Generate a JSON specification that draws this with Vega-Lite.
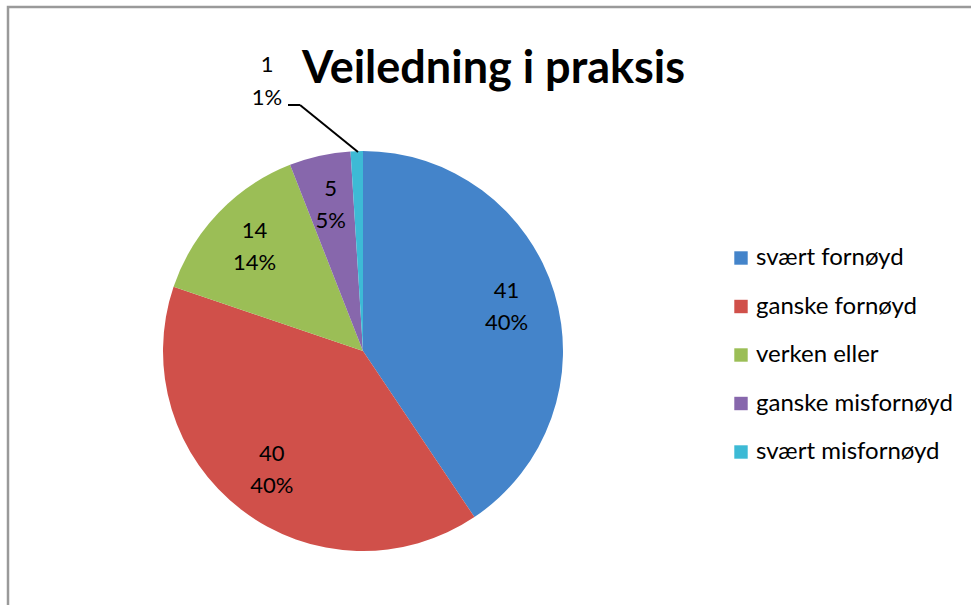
{
  "$schema": "https://vega.github.io/schema/vega-lite/v6.json",
  "autosize": {"type": "fit", "contains": "padding"},
  "width": 971,
  "height": 605,
  "padding": {"left": 8, "top": 7, "right": -4, "bottom": -4},
  "background": "white",
  "config": {
    "view": {"stroke": "#9a9a9a", "strokeWidth": 2.5},
    "font": "Lato"
  },
  "title": {
    "text": "Veiledning i praksis",
    "anchor": "middle",
    "frame": "group",
    "dx": 2,
    "offset": -85,
    "font": "Lato",
    "fontSize": 45,
    "fontWeight": "bold",
    "color": "black"
  },
  "data": {
    "values": [
      {"kategori": "svært fornøyd", "antall": 41, "andel": "40%"},
      {"kategori": "ganske fornøyd", "antall": 40, "andel": "40%"},
      {"kategori": "verken eller", "antall": 14, "andel": "14%"},
      {"kategori": "ganske misfornøyd", "antall": 5, "andel": "5%"},
      {"kategori": "svært misfornøyd", "antall": 1, "andel": "1%"}
    ]
  },
  "transform": [{"calculate": "datum.antall + '\\n' + datum.andel", "as": "etikett"}],
  "encoding": {
    "x": {"datum": 0, "type": "quantitative", "scale": {"domain": [-1.775, 3.06], "nice": false, "zero": false}, "axis": null},
    "y": {"datum": 0, "type": "quantitative", "scale": {"domain": [-1.29, 1.72], "nice": false, "zero": false}, "axis": null}
  },
  "layer": [
    {
      "mark": {"type": "arc", "outerRadius": 200},
      "encoding": {
        "theta": {"field": "antall", "type": "quantitative", "stack": true},
        "order": {"field": "antall", "type": "quantitative", "sort": "descending"},
        "color": {
          "field": "kategori",
          "type": "nominal",
          "scale": {
            "domain": ["svært fornøyd", "ganske fornøyd", "verken eller", "ganske misfornøyd", "svært misfornøyd"],
            "range": ["#4484CA", "#D0504A", "#9BBE56", "#8767AC", "#3DBAD5"]
          },
          "legend": {
            "orient": "none",
            "legendX": 721,
            "legendY": 239,
            "title": null,
            "symbolType": "square",
            "symbolSize": 180,
            "symbolStrokeWidth": 0,
            "labelFont": "Lato",
            "labelFontSize": 24,
            "labelColor": "black",
            "labelOffset": 3,
            "labelLimit": 400,
            "rowPadding": 24.5,
            "padding": 0
          }
        }
      }
    },
    {
      "transform": [{"filter": "datum.antall > 1"}],
      "mark": {"type": "text", "radius": 150, "dy": -16, "font": "Lato", "fontSize": 22, "lineBreak": "\n", "lineHeight": 32, "color": "black"},
      "encoding": {
        "theta": {"field": "antall", "type": "quantitative", "stack": true},
        "order": {"field": "antall", "type": "quantitative", "sort": "descending"},
        "text": {"field": "etikett"}
      }
    },
    {
      "transform": [{"filter": "datum.antall == 1"}],
      "mark": {"type": "text", "dy": -16, "font": "Lato", "fontSize": 22, "lineBreak": "\n", "lineHeight": 33, "color": "black"},
      "encoding": {
        "x": {"datum": -0.48, "type": "quantitative"},
        "y": {"datum": 1.35, "type": "quantitative"},
        "text": {"field": "etikett"}
      }
    },
    {
      "data": {"values": [{}]},
      "mark": {"type": "rule", "color": "black", "strokeWidth": 2},
      "encoding": {
        "x": {"datum": -0.375, "type": "quantitative"},
        "y": {"datum": 1.23, "type": "quantitative"},
        "x2": {"datum": -0.315},
        "y2": {"datum": 1.23}
      }
    },
    {
      "data": {"values": [{}]},
      "mark": {"type": "rule", "color": "black", "strokeWidth": 2},
      "encoding": {
        "x": {"datum": -0.315, "type": "quantitative"},
        "y": {"datum": 1.23, "type": "quantitative"},
        "x2": {"datum": -0.025},
        "y2": {"datum": 0.995}
      }
    }
  ]
}
